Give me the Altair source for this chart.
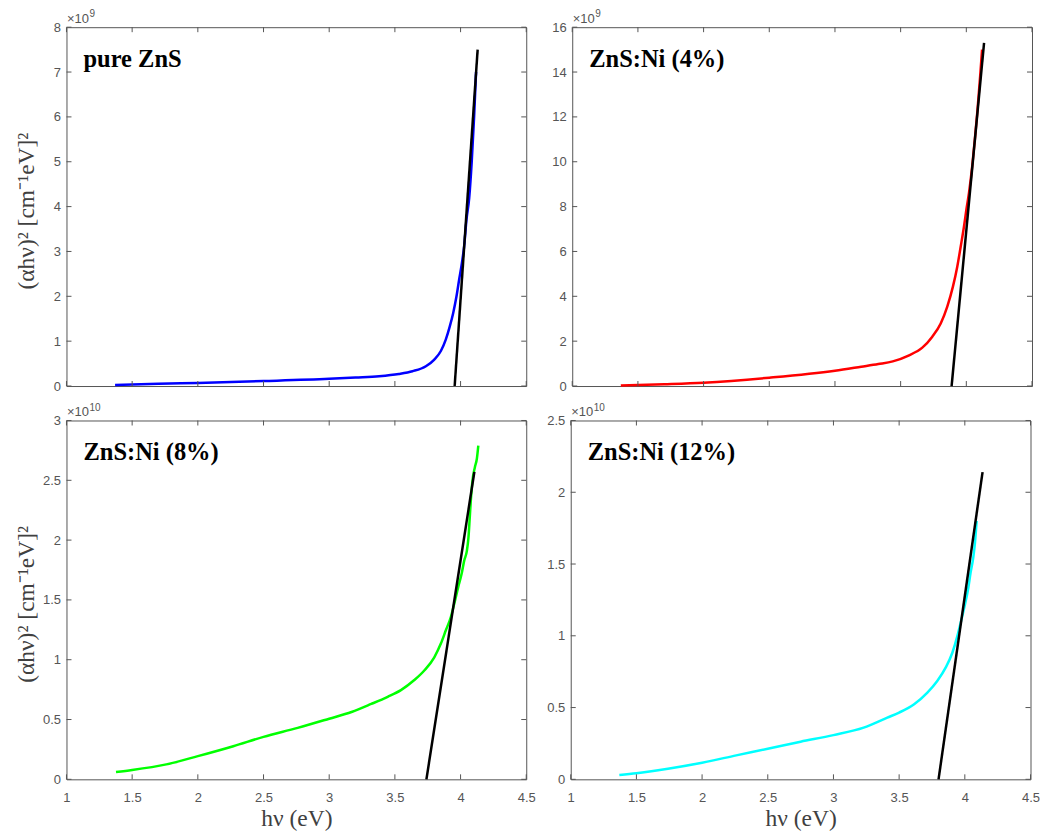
import altair as alt
import pandas as pd

# ---------------- data ----------------
# pure ZnS (y in units of 1e9)
x1 = [1.37, 1.7, 2.0, 2.5, 3.0, 3.2, 3.38, 3.53, 3.634, 3.736, 3.80, 3.85, 3.888, 3.918, 3.944, 3.969,
      3.989, 4.01, 4.027, 4.045, 4.066, 4.085, 4.103, 4.118]
y1 = [0.02, 0.05, 0.07, 0.11, 0.16, 0.19, 0.22, 0.27, 0.33, 0.44, 0.59, 0.78, 1.04, 1.33, 1.63, 2.0,
      2.37, 2.74, 3.11, 3.71, 4.2, 5.0, 6.0, 7.0]
f1x = [3.955, 4.13]
f1y = [0.0, 7.5]

# ZnS:Ni (4%) (y in units of 1e9)
x2 = [1.37, 1.7, 2.0, 2.5, 3.0, 3.2, 3.33, 3.44, 3.56, 3.665, 3.741, 3.805, 3.855, 3.898, 3.931, 3.957,
      3.982, 4.0, 4.02, 4.045, 4.065, 4.085, 4.105, 4.12]
y2 = [0.02, 0.08, 0.15, 0.37, 0.68, 0.86, 0.98, 1.1, 1.36, 1.71, 2.2, 2.79, 3.54, 4.43, 5.32, 6.21,
      7.1, 7.85, 8.6, 9.8, 11.0, 12.3, 13.8, 15.0]
f2x = [3.888, 4.135]
f2y = [0.0, 15.3]

# ZnS:Ni (8%) (y in units of 1e10)
x3 = [1.377, 1.5, 1.76, 2.0, 2.27, 2.5, 2.76, 3.0, 3.17, 3.32, 3.445, 3.546, 3.648, 3.724, 3.80, 3.85,
      3.888, 3.926, 3.952, 3.982, 4.008, 4.028, 4.048, 4.06, 4.07, 4.078, 4.091, 4.109, 4.124, 4.135]
y3 = [0.061, 0.078, 0.125, 0.194, 0.277, 0.355, 0.43, 0.507, 0.563, 0.63, 0.69, 0.746, 0.83, 0.91, 1.02, 1.135,
      1.246, 1.357, 1.468, 1.607, 1.718, 1.83, 1.91, 2.02, 2.19, 2.33, 2.5, 2.61, 2.68, 2.79]
f3x = [3.74, 4.105]
f3y = [0.0, 2.57]

# ZnS:Ni (12%) (y in units of 1e10)
x4 = [1.37, 1.5, 1.74, 2.0, 2.26, 2.5, 2.75, 3.0, 3.23, 3.41, 3.50, 3.614, 3.715, 3.79, 3.854, 3.905,
      3.943, 3.968, 3.998, 4.024, 4.044, 4.065, 4.077, 4.09]
y4 = [0.03, 0.042, 0.074, 0.116, 0.167, 0.213, 0.262, 0.308, 0.36, 0.43, 0.465, 0.523, 0.604, 0.685, 0.778, 0.882,
      0.998, 1.09, 1.206, 1.32, 1.44, 1.55, 1.646, 1.80]
f4x = [3.80, 4.135]
f4y = [0.0, 2.14]

labels = ["pure ZnS", "ZnS:Ni (4%)", "ZnS:Ni (8%)", "ZnS:Ni (12%)"]
colors = ["#0000ff", "#ff0000", "#00ff00", "#00ffff"]
exponents = ["9", "9", "10", "10"]
ymaxes = [8, 16, 3, 2.5]
yticks = [[0, 1, 2, 3, 4, 5, 6, 7, 8],
          [0, 2, 4, 6, 8, 10, 12, 14, 16],
          [0, 0.5, 1, 1.5, 2, 2.5, 3],
          [0, 0.5, 1, 1.5, 2, 2.5]]
xticks = [1, 1.5, 2, 2.5, 3, 3.5, 4, 4.5]

# ---------------- styling ----------------
W, H = 460, 359
GRAY = "#555555"
SERIF = "Liberation Serif"
SANS = "Liberation Sans"
YTITLE = "(\u03b1h\u03bd)\u00b2 [cm\u207b\u00b9eV]\u00b2"
XTITLE = "h\u03bd (eV)"


def panel(i, xs, ys, fx, fy, show_x, show_ytitle):
    xsc = alt.Scale(domain=[1, 4.5], nice=False, zero=False)
    ysc = alt.Scale(domain=[0, ymaxes[i]], nice=False)
    if show_x:
        xax = alt.Axis(values=xticks, format="~g", ticks=False, domain=False, grid=False,
                       labelFlush=False, labelPadding=12, title=XTITLE, titlePadding=2)
    else:
        xax = None
    yargs = dict(values=yticks[i], format="~g", ticks=False, domain=False, grid=False,
                 labelFlush=False, labelPadding=6)
    if show_ytitle:
        yax = alt.Axis(title=YTITLE, titleX=-33, titleY=H / 2 + 4, titleAngle=-90,
                       titleBaseline="alphabetic", titleAlign="center", **yargs)
    else:
        yax = alt.Axis(title=None, **yargs)
    X = alt.X("x:Q", scale=xsc, axis=xax)
    Y = alt.Y("y:Q", scale=ysc, axis=yax)

    curve = alt.Chart(pd.DataFrame({"x": xs, "y": ys})).mark_line(
        color=colors[i], strokeWidth=2.5, interpolate="monotone").encode(x=X, y=Y)
    fit = alt.Chart(pd.DataFrame({"x": fx, "y": fy})).mark_line(
        color="black", strokeWidth=2.5).encode(x=X, y=Y)

    xt = pd.DataFrame({"x": xticks})
    yt = pd.DataFrame({"y": yticks[i]})
    tb = alt.Chart(xt).mark_rule(color=GRAY, strokeWidth=1).encode(
        x=X, y=alt.value(H), y2=alt.value(H - 5))
    tt = alt.Chart(xt).mark_rule(color=GRAY, strokeWidth=1).encode(
        x=X, y=alt.value(0), y2=alt.value(5))
    tl = alt.Chart(yt).mark_rule(color=GRAY, strokeWidth=1).encode(
        y=Y, x=alt.value(0), x2=alt.value(5))
    tr = alt.Chart(yt).mark_rule(color=GRAY, strokeWidth=1).encode(
        y=Y, x=alt.value(W), x2=alt.value(W - 5))

    lab = alt.Chart(pd.DataFrame({"t": [labels[i]]})).mark_text(
        font=SERIF, fontSize=24.5, fontWeight="bold", color="black",
        align="left", baseline="middle").encode(
        text="t:N", x=alt.value(17), y=alt.value(33))
    e1 = alt.Chart(pd.DataFrame({"t": ["\u00d710"]})).mark_text(
        font=SANS, fontSize=13, color=GRAY, align="left", baseline="alphabetic").encode(
        text="t:N", x=alt.value(0.5), y=alt.value(-4.5))
    e2 = alt.Chart(pd.DataFrame({"t": [exponents[i]]})).mark_text(
        font=SANS, fontSize=10, color=GRAY, align="left", baseline="alphabetic").encode(
        text="t:N", x=alt.value(23), y=alt.value(-10))

    return alt.layer(curve, fit, tb, tt, tl, tr, lab, e1, e2).properties(width=W, height=H)


p1 = panel(0, x1, y1, f1x, f1y, False, True)
p2 = panel(1, x2, y2, f2x, f2y, False, False)
p3 = panel(2, x3, y3, f3x, f3y, True, True)
p4 = panel(3, x4, y4, f4x, f4y, True, False)

row1 = alt.hconcat(p1, p2, spacing=24)
row2 = alt.hconcat(p3, p4, spacing=9.5)

chart = alt.vconcat(row1, row2, spacing=7.5).properties(
    padding={"left": 5.5, "top": 0, "right": 0, "bottom": 0},
    background="white"
).configure_view(
    stroke=GRAY, strokeWidth=1
).configure_axis(
    labelFont=SANS, labelFontSize=13, labelColor=GRAY,
    titleFont=SERIF, titleFontSize=23.5, titleColor="#404040", titleFontWeight="normal"
)

chart.save("out.html", embed_options={"renderer": "svg", "actions": False})
